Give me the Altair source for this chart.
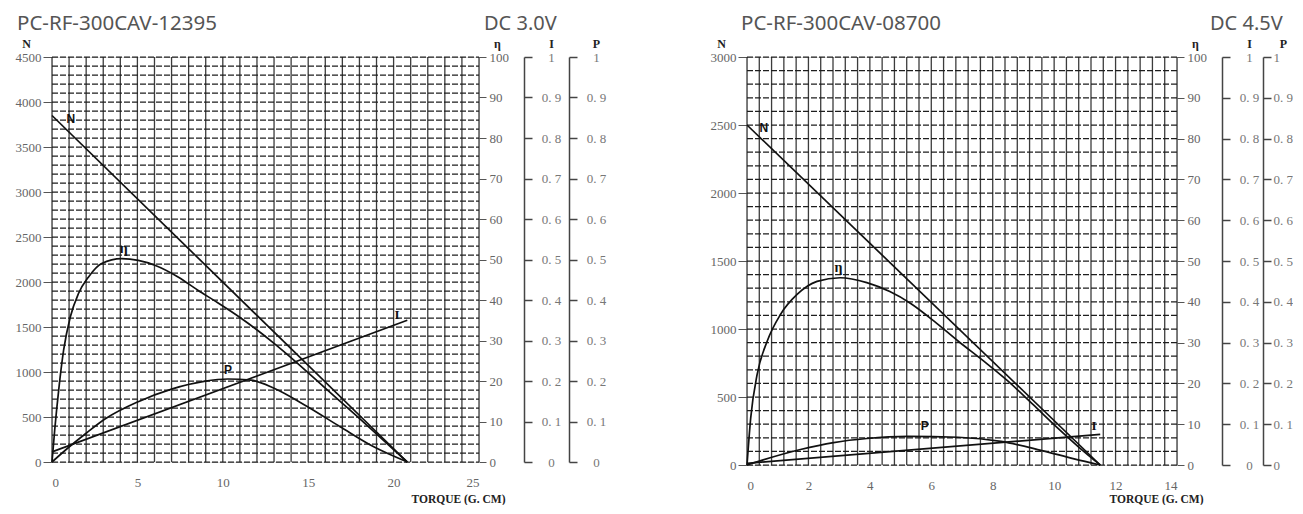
import altair as alt
import pandas as pd

# ---------------- Left panel: PC-RF-300CAV-12395, DC 3.0V ----------------
L_N_T = [0, 20.8]
L_N = [3850, 0]
L_ETA_T = [0, 0.16, 0.39, 0.68, 1.07, 1.55, 2.14, 2.91, 4.08, 5.05, 6.02, 7.38, 8.54,
           9.6, 11.07, 13.0, 14.26, 15.9, 17.85, 18.8, 20.8]
L_ETA = [0, 8.0, 17.7, 27.6, 35.8, 41.6, 45.7, 49.0, 50.2, 49.8, 48.6, 45.7, 42.4,
         39.6, 35.5, 29.3, 24.8, 18.6, 11.3, 7.7, 0]
L_P_T = [0, 1.0, 2.0, 3.1, 5.05, 7.0, 8.9, 10.3, 11.65, 13.0, 14.94, 16.87, 18.81, 20.8]
L_P = [0, 0.037, 0.071, 0.106, 0.149, 0.180, 0.199, 0.205, 0.202, 0.182, 0.137, 0.087, 0.038, 0]
L_I_T = [0, 20.8]
L_I = [0.025, 0.35]
L_LABELS = {"N": (1.1, 3810), "η": (4.2, 52.7), "P": (10.3, 0.227), "I": (20.2, 0.363)}

# ---------------- Right panel: PC-RF-300CAV-08700, DC 4.5V ----------------
R_N_T = [0, 11.5]
R_N = [2500, 0]
R_ETA_T = [0, 0.12, 0.33, 0.66, 1.09, 1.63, 2.28, 3.03, 3.9, 4.65, 5.33, 6.1, 6.87, 7.7,
           8.49, 9.3, 10.11, 10.8, 11.5]
R_ETA = [0, 11.5, 22.2, 30.4, 36.9, 41.8, 45.0, 45.9, 44.7, 42.5, 39.6, 35.2, 30.4, 25.5,
         20.6, 14.9, 9.1, 4.4, 0]
R_P_T = [0, 0.5, 1.74, 2.82, 3.9, 5.25, 6.87, 8.27, 9.57, 10.65, 11.5]
R_P = [0, 0.012, 0.038, 0.055, 0.065, 0.070, 0.068, 0.058, 0.036, 0.015, 0]
R_I_T = [0, 11.5]
R_I = [0.004, 0.075]
R_LABELS = {"N": (0.55, 2480), "η": (2.98, 48.4), "P": (5.79, 0.095), "I": (11.3, 0.095)}

UNIT_TICKS = [0, 0.1, 0.2, 0.3, 0.4, 0.5, 0.6, 0.7, 0.8, 0.9, 1]
ETA_TICKS = [0, 10, 20, 30, 40, 50, 60, 70, 80, 90, 100]

SERIF = "Liberation Serif"
SANS = "Liberation Sans"
LINE = "#111"
LABEL_GRAY = "#666"
AXIS_TITLE_Y = -14


def df(t, v):
    return pd.DataFrame({"t": t, "v": v})


def panel(model, volt, xmax, xticks, xgrid, nmax, nticks, ngrid, w, h,
          nT, nV, eT, eV, pT, pV, iT, iV, labels, model_dx, volt_dx,
          p_off, p_align, p_pad, p_title_x, torque_y):
    xs = alt.Scale(domain=[0, xmax], nice=False, zero=False)
    x_axis = alt.Axis(values=xticks, grid=False, ticks=False, tickSize=0, domain=False,
                      labelPadding=14, labelFont=SERIF, labelFontSize=13, labelColor=LABEL_GRAY,
                      title="TORQUE (G. CM)", titleFont=SERIF, titleFontSize=11.5,
                      titleFontWeight="bold", titleColor="#222", titleAnchor="end",
                      titleAlign="right", titleX=w + 26, titleY=torque_y, titleBaseline="alphabetic")
    X = alt.X("t:Q", scale=xs, axis=x_axis)

    ysN = alt.Scale(domain=[0, nmax], nice=False, zero=False)
    n_axis = alt.Axis(values=nticks, grid=False, tickSize=9, tickColor="#555", domain=False,
                      labelPadding=2, labelFont=SERIF, labelFontSize=13, labelColor=LABEL_GRAY,
                      format="d", title="N", titleAngle=0, titleX=-26, titleY=AXIS_TITLE_Y,
                      titleFont=SERIF, titleFontSize=12, titleFontWeight="bold", titleColor="#222",
                      titleAlign="center", titleBaseline="middle")
    YN = alt.Y("v:Q", scale=ysN, axis=n_axis)

    vgrid = alt.Chart(pd.DataFrame({"t": xgrid, "y0": [0] * len(xgrid), "y1": [nmax] * len(xgrid)})).mark_rule(
        color="#3c3c3c", strokeWidth=1.3).encode(
        x=X, y=alt.Y("y0:Q", scale=ysN, axis=n_axis), y2="y1:Q")
    hgrid = alt.Chart(pd.DataFrame({"v": ngrid, "x0": [0] * len(ngrid), "x1": [xmax] * len(ngrid)})).mark_rule(
        color="#1e1e1e", strokeWidth=1.25, strokeDash=[6, 2]).encode(
        y=YN, x=alt.X("x0:Q", scale=xs, axis=x_axis), x2="x1:Q")
    n_line = alt.Chart(df(nT, nV)).mark_line(color=LINE, strokeWidth=1.7).encode(x=X, y=YN)
    lx, ly = labels["N"]
    n_lab = alt.Chart(pd.DataFrame({"t": [lx], "v": [ly], "lab": ["N"]})).mark_text(
        font=SANS, fontSize=12, fontWeight="bold", color="#111").encode(x=X, y=YN, text="lab:N")
    heads = alt.Chart(pd.DataFrame({"lab": [model]})).mark_text(
        align="left", baseline="alphabetic", font="Noto Sans", fontSize=20.5, color="#555"
    ).encode(x=alt.value(model_dx), y=alt.value(-27), text="lab:N")
    volt_t = alt.Chart(pd.DataFrame({"lab": [volt]})).mark_text(
        align="left", baseline="alphabetic", font="Noto Sans", fontSize=20, color="#555"
    ).encode(x=alt.value(w + volt_dx), y=alt.value(-27), text="lab:N")
    n_layer = alt.layer(vgrid, hgrid, n_line, n_lab, heads, volt_t)

    e_axis = alt.Axis(orient="right", values=ETA_TICKS, grid=False, domain=False, tickSize=7,
                      tickColor="#555", labelPadding=3, labelFont=SERIF, labelFontSize=13,
                      labelColor=LABEL_GRAY, title="η", titleAngle=0, titleX=18, titleY=AXIS_TITLE_Y,
                      titleFont=SERIF, titleFontSize=12, titleFontWeight="bold", titleColor="#222",
                      titleAlign="center", titleBaseline="middle")
    YE = alt.Y("v:Q", scale=alt.Scale(domain=[0, 100], nice=False), axis=e_axis)
    e_line = alt.Chart(df(eT, eV)).mark_line(color=LINE, strokeWidth=1.7, interpolate="monotone").encode(x=X, y=YE)
    lx, ly = labels["η"]
    e_lab = alt.Chart(pd.DataFrame({"t": [lx], "v": [ly], "lab": ["η"]})).mark_text(
        font=SERIF, fontSize=14, fontWeight="bold", color="#111").encode(x=X, y=YE, text="lab:N")
    e_layer = alt.layer(e_line, e_lab)

    def unit_axis(title, offset, align, pad, title_x):
        return alt.Axis(orient="right", offset=offset, values=UNIT_TICKS, grid=False, domain=True,
                        domainColor="#444", domainWidth=1.5, tickSize=8, tickColor="#444",
                        tickWidth=1.5, labelAlign=align, labelPadding=pad, labelFont=SERIF,
                        labelFontSize=13, labelColor="#777",
                        labelExpr="replace(format(datum.value, '.1~f'), '.', '. ')",
                        title=title, titleAngle=0, titleX=title_x, titleY=AXIS_TITLE_Y, titleFont=SERIF,
                        titleFontSize=12, titleFontWeight="bold", titleColor="#222",
                        titleAlign="center", titleBaseline="middle")

    YI = alt.Y("v:Q", scale=alt.Scale(domain=[0, 1], nice=False),
               axis=unit_axis("I", 45, "center", 19, 27))
    i_line = alt.Chart(df(iT, iV)).mark_line(color=LINE, strokeWidth=1.7).encode(x=X, y=YI)
    lx, ly = labels["I"]
    i_lab = alt.Chart(pd.DataFrame({"t": [lx], "v": [ly], "lab": ["I"]})).mark_text(
        font=SERIF, fontSize=13, fontWeight="bold", color="#111").encode(x=X, y=YI, text="lab:N")
    i_layer = alt.layer(i_line, i_lab)

    YP = alt.Y("v:Q", scale=alt.Scale(domain=[0, 1], nice=False),
               axis=unit_axis("P", p_off, p_align, p_pad, p_title_x))
    p_line = alt.Chart(df(pT, pV)).mark_line(color=LINE, strokeWidth=1.7, interpolate="monotone").encode(x=X, y=YP)
    lx, ly = labels["P"]
    p_lab = alt.Chart(pd.DataFrame({"t": [lx], "v": [ly], "lab": ["P"]})).mark_text(
        font=SANS, fontSize=12, fontWeight="bold", color="#111").encode(x=X, y=YP, text="lab:N")
    p_layer = alt.layer(p_line, p_lab)

    return alt.layer(n_layer, e_layer, i_layer, p_layer).resolve_scale(y="independent").properties(
        width=w, height=h)


left = panel("PC-RF-300CAV-12395", "DC 3.0V", 25, [0, 5, 10, 15, 20, 25], list(range(0, 26)),
             4500, list(range(0, 4501, 500)), list(range(0, 4501, 100)), 427, 405,
             L_N_T, L_N, L_ETA_T, L_ETA, L_P_T, L_P, L_I_T, L_I, L_LABELS, -35, 5,
             90, "center", 19, 27, 40)

right = panel("PC-RF-300CAV-08700", "DC 4.5V", 14, [0, 2, 4, 6, 8, 10, 12, 14],
              [round(i * 0.4, 1) for i in range(36)],
              3000, list(range(0, 3001, 500)), list(range(0, 3001, 100)), 430, 408,
              R_N_T, R_N, R_ETA_T, R_ETA, R_P_T, R_P, R_I_T, R_I, R_LABELS, -6, 33,
              86, "left", 2, 20, 37)

chart = alt.hconcat(left, right, spacing=102).properties(
    padding={"left": 6, "top": 5, "right": 0, "bottom": 0}
).configure_view(stroke="#333", strokeWidth=1.3).configure(background="white")

chart.save("out.html", embed_options={"renderer": "svg", "actions": False})
